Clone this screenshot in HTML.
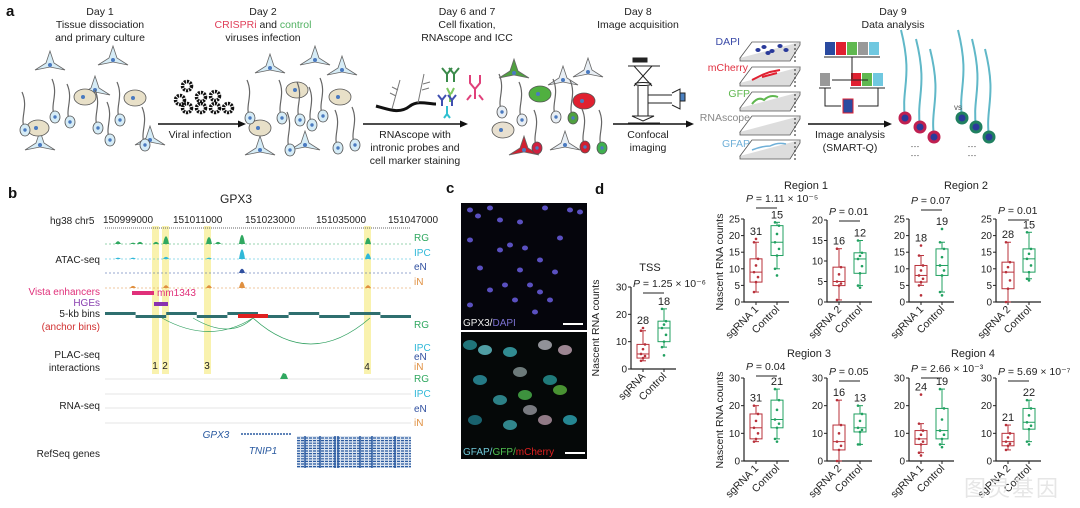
<!DOCTYPE html>
<html><head><meta charset="utf-8">
<style>
html,body{margin:0;padding:0;background:#fff;}
svg{display:block;font-family:"Liberation Sans","Noto Sans CJK SC",sans-serif;}
</style></head>
<body>
<svg id="fig" width="1080" height="508" viewBox="0 0 1080 508" xmlns="http://www.w3.org/2000/svg" fill="#222">
<!-- PANEL A -->
<g font-size="10.5" text-anchor="middle">
  <text x="6" y="16" font-size="15" font-weight="bold" text-anchor="start" fill="#111">a</text>
  <text x="100" y="15">Day 1</text>
  <text x="100" y="28">Tissue dissociation</text>
  <text x="100" y="41">and primary culture</text>
  <text x="263" y="15">Day 2</text>
  <text x="263" y="28"><tspan fill="#e0405a">CRISPRi</tspan> and <tspan fill="#50b060">control</tspan></text>
  <text x="263" y="41">viruses infection</text>
  <text x="467" y="15">Day 6 and 7</text>
  <text x="467" y="28">Cell fixation,</text>
  <text x="467" y="41">RNAscope and ICC</text>
  <text x="638" y="15">Day 8</text>
  <text x="638" y="28">Image acquisition</text>
  <text x="893" y="15">Day 9</text>
  <text x="893" y="28">Data analysis</text>

  <g>
    <line x1="158" y1="124" x2="240" y2="124" stroke="#111" stroke-width="1.5"/>
    <polygon points="246,124 238,120.5 238,127.5" fill="#111"/>
  </g>
  <text x="200" y="138">Viral infection</text>
  <g>
    <line x1="363" y1="124" x2="462" y2="124" stroke="#111" stroke-width="1.5"/>
    <polygon points="468,124 460,120.5 460,127.5" fill="#111"/>
  </g>
  <text x="415" y="138">RNAscope with</text>
  <text x="415" y="151">intronic probes and</text>
  <text x="415" y="164">cell marker staining</text>
  <g>
    <line x1="613" y1="124" x2="688" y2="124" stroke="#111" stroke-width="1.5"/>
    <polygon points="694,124 686,120.5 686,127.5" fill="#111"/>
  </g>
  <text x="648" y="138">Confocal</text>
  <text x="648" y="151">imaging</text>
  <g>
    <line x1="808" y1="124" x2="886" y2="124" stroke="#111" stroke-width="1.5"/>
    <polygon points="892,124 884,120.5 884,127.5" fill="#111"/>
  </g>
  <text x="850" y="138">Image analysis</text>
  <text x="850" y="151">(SMART-Q)</text>

  <g id="cells"></g>
  <g id="viruses"></g>

  <g fill="none" stroke="#111">
    <path d="M376,106 C390,110 400,114 410,106 C418,100 428,104 436,104" stroke-width="3"/>
    <path d="M392,109 L400,80 M396,96 l-6,-3 M398,90 l-6,-3 M418,103 L424,74 M422,90 l7,-2 M423,84 l7,-2" stroke-width="1" stroke="#777"/>
  </g>
  <g stroke-width="2" fill="none">
    <path d="M447,82 v-8 l-5,-6 M447,74 l5,-6 M454,82 v-8 l-5,-6 M454,74 l5,-6" stroke="#3a8a4a"/>
    <path d="M447,88 l3,6 v8 M454,88 l-3,6" stroke="#7cc860"/>
    <path d="M442,106 v-6 l-4,-5 M442,100 l4,-5 M452,106 v-6 l-4,-5 M452,100 l4,-5" stroke="#4050b0"/>
    <path d="M447,106 v8 l-3,4 M447,114 l3,4" stroke="#30c0d0"/>
    <path d="M470,75 v8 l5,6 v10 M480,75 v8 l-5,6 M471,95 l-4,5 M479,95 l4,5" stroke="#e0407a"/>
  </g>
  <g stroke="#222" stroke-width="1" fill="none">
    <rect x="633" y="58" width="14" height="4" fill="#222"/>
    <line x1="628" y1="66" x2="660" y2="66"/>
    <path d="M634,66 L652,86 M652,66 L634,86"/>
    <ellipse cx="643" cy="84" rx="8" ry="1.5"/>
    <line x1="638" y1="86" x2="638" y2="116"/><line x1="648" y1="86" x2="648" y2="116"/>
    <line x1="648" y1="95" x2="672" y2="95"/><line x1="648" y1="103" x2="672" y2="103"/>
    <path d="M672,93 l8,-4 v20 l-8,-4" />
    <rect x="680" y="93" width="5" height="8" fill="#4a80c0"/>
    <path d="M632,116 h22 l-11,5 z"/>
    <line x1="628" y1="123" x2="660" y2="123"/>
  </g>
  <g id="planes"></g>
  <text x="740" y="45" fill="#3a4aa8" text-anchor="end">DAPI</text>
  <text x="748" y="71" fill="#e03040" text-anchor="end">mCherry</text>
  <text x="750" y="97" fill="#60b850" text-anchor="end">GFP</text>
  <text x="750" y="121" fill="#888" text-anchor="end">RNAscope</text>
  <text x="750" y="147" fill="#70b0d8" text-anchor="end">GFAP</text>
  <g>
    <rect x="825" y="42" width="10" height="13" fill="#2a4aa0"/><rect x="836" y="42" width="10" height="13" fill="#e02030"/>
    <rect x="847" y="42" width="10" height="13" fill="#60b850"/><rect x="858" y="42" width="10" height="13" fill="#999"/>
    <rect x="869" y="42" width="10" height="13" fill="#70c8e0"/>
    <line x1="824" y1="57" x2="880" y2="57" stroke="#222"/>
    <rect x="820" y="73" width="10" height="13" fill="#999"/>
    <rect x="851" y="73" width="10" height="13" fill="#e02030"/><rect x="862" y="73" width="10" height="13" fill="#60b850"/><rect x="873" y="73" width="10" height="13" fill="#70c8e0"/>
    <line x1="819" y1="88" x2="831" y2="88" stroke="#222"/><line x1="850" y1="88" x2="885" y2="88" stroke="#222"/>
    <path d="M852,57 v22 M832,80 h36 M825,88 v18 h16 M878,88 v18 h-20" stroke="#222" fill="none"/>
    <rect x="843" y="99" width="10" height="14" fill="#2a4aa0" stroke="#e02030"/>
  </g>
  <g id="neurons9"></g>
  <text x="958" y="110" font-size="8" fill="#555">vs</text>
  <text x="915" y="150" font-size="9" fill="#555">⋯</text>
  <text x="915" y="159" font-size="9" fill="#555">⋯</text>
  <text x="972" y="150" font-size="9" fill="#555">⋯</text>
  <text x="972" y="159" font-size="9" fill="#555">⋯</text>
</g>

<!-- PANEL B -->
<g font-size="10">
  <text x="8" y="198" font-size="15" font-weight="bold" fill="#111">b</text>
  <text x="236" y="203" font-size="12" text-anchor="middle">GPX3</text>
  <g fill="#f8f0a0" opacity="0.85">
    <rect x="152" y="226" width="7" height="148"/><rect x="162" y="226" width="7" height="148"/>
    <rect x="204" y="226" width="7" height="148"/><rect x="364" y="226" width="7" height="148"/>
  </g>
  <text x="50" y="224">hg38 chr5</text>
  <g>
    <line x1="105" y1="228" x2="411" y2="228" stroke="#666" stroke-dasharray="1 1"/>
    <text x="103" y="223">150999000</text>
    <text x="173" y="223">151011000</text>
    <text x="245" y="223">151023000</text>
    <text x="316" y="223">151035000</text>
    <text x="388" y="223">151047000</text>
  </g>
  <g id="tracks"></g>
  <text x="100" y="263" text-anchor="end">ATAC-seq</text>
  <text x="100" y="295" text-anchor="end" fill="#e0307a">Vista enhancers</text>
  <text x="100" y="306" text-anchor="end" fill="#8a40b0">HGEs</text>
  <text x="100" y="317" text-anchor="end">5-kb bins</text>
  <text x="100" y="330" text-anchor="end" fill="#d03030">(anchor bins)</text>
  <text x="100" y="358" text-anchor="end">PLAC-seq</text>
  <text x="100" y="371" text-anchor="end">interactions</text>
  <text x="100" y="409" text-anchor="end">RNA-seq</text>
  <text x="100" y="457" text-anchor="end">RefSeq genes</text>
  <rect x="132" y="291" width="22" height="4" fill="#e0307a"/>
  <text x="157" y="296" fill="#e0307a">mm1343</text>
  <rect x="154" y="302" width="14" height="4" fill="#8a30b0"/>
  <text x="155" y="369" text-anchor="middle">1</text>
  <text x="165" y="369" text-anchor="middle">2</text>
  <text x="207" y="369" text-anchor="middle">3</text>
  <text x="367" y="370" text-anchor="middle">4</text>
  <text x="216" y="438" font-style="italic" fill="#2a5aa0" text-anchor="middle">GPX3</text>
  <line x1="241" y1="434" x2="292" y2="434" stroke="#2a5aa0" stroke-width="1.5" stroke-dasharray="2 1"/>
  <text x="263" y="454" font-style="italic" fill="#2a5aa0" text-anchor="middle">TNIP1</text>
  <g>
    <rect x="297" y="436" width="114" height="32" fill="#dbe4f0"/>
    <g id="tnip1lines"></g>
  </g>
</g>

<!-- PANEL C -->
<g>
  <text x="446" y="193" font-size="15" font-weight="bold" fill="#111">c</text>
  <rect x="461" y="203" width="126" height="127" fill="#05050c"/>
  <g id="dapiDots"></g>
  <text x="463" y="326" font-size="10" fill="#eee"><tspan fill="#eee">GPX3/</tspan><tspan fill="#7a70d0">DAPI</tspan></text>
  <line x1="563" y1="324" x2="583" y2="324" stroke="#fff" stroke-width="2"/>
  <rect x="461" y="332" width="126" height="127" fill="#050808"/>
  <g id="gfapCells"></g>
  <text x="463" y="455" font-size="10"><tspan fill="#70c8d8">GFAP/</tspan><tspan fill="#50c050">GFP/</tspan><tspan fill="#e02020">mCherry</tspan></text>
  <line x1="565" y1="453" x2="585" y2="453" stroke="#fff" stroke-width="2"/>
</g>

<!-- PANEL D -->
<g>
  <text x="595" y="194" font-size="15" font-weight="bold" fill="#111">d</text>
  <g id="boxplots" font-size="10"></g>
  <text x="1012" y="496" font-size="22" fill="#e6e6e6" text-anchor="middle" letter-spacing="2">图灵基因</text>
</g>
</svg>
<script>
// ===== Panel d data =====
const plotNames = ["TSS","R1a","R1b","R2a","R2b","R3a","R3b","R4a","R4b"];
const groupLabels = [["sgRNA","Control"],["sgRNA 1","Control"],["sgRNA 2","Control"],["sgRNA 1","Control"],["sgRNA 2","Control"],["sgRNA 1","Control"],["sgRNA 2","Control"],["sgRNA 1","Control"],["sgRNA 2","Control"]];
const yMaxValues = [30,25,20,25,25,30,30,30,30];
const yTickValues = [[0,10,20,30],[0,5,10,15,20,25],[0,5,10,15,20],[0,5,10,15,20,25],[0,5,10,15,20,25],[0,10,20,30],[0,10,20,30],[0,10,20,30],[0,10,20,30]];
// [min, q1, median, q3, max]
const sgStats = [[3,4,5.5,9,14],[3,6,9,13,18],[0.5,4,5,8.5,13],[5,6,8,11,14],[0,4,9,12,18],[7,8,12,17,20],[0,4,7,13,22],[3,6,8,11,13.5],[4,5.5,7,10,13]];
const ctrlStats = [[8,10,15,17.5,22],[10,14,18,23,24],[4,7,10.5,12,15],[3,8,11,16,18],[7,9,13,16,21],[8,12,15,22,26],[6,10.5,12,17,20],[6,8,11,19,26],[7,11.5,14,19,22]];
const sgN = [28,31,16,18,28,31,16,24,21];
const ctrlN = [18,15,12,19,15,21,13,19,22];
const pLabels = ["P = 1.25 × 10⁻⁶","P = 1.11 × 10⁻⁵","P = 0.01","P = 0.07","P = 0.01","P = 0.04","P = 0.05","P = 2.66 × 10⁻³","P = 5.69 × 10⁻⁷"];
const regionTitles = ["Region 1","Region 2","Region 3","Region 4"];
const sgOutliers = [[15],[19],[],[17,2],[],[],[],[2,24],[]];
const ctrlOutliers = [[5],[8],[3.5],[22,2],[6.5],[7],[6],[5],[6]];

// layout (not data)
const layout = [
  {ax:631,y0:369,y1:287,pOff:0,lOff:6},{ax:744,y0:302,y1:219,pOff:-17,lOff:-11},{ax:827,y0:302,y1:220,pOff:-5,lOff:1},{ax:909,y0:302,y1:219,pOff:-15,lOff:-9},{ax:996,y0:302,y1:219,pOff:-5,lOff:1},
  {ax:744,y0:461,y1:378,pOff:-8,lOff:-2},{ax:827,y0:461,y1:378,pOff:-3,lOff:3},{ax:909,y0:461,y1:378,pOff:-6,lOff:0},{ax:996,y0:461,y1:378,pOff:-3,lOff:3}];
const NS="http://www.w3.org/2000/svg";
function mk(tag,attrs,parent){const e=document.createElementNS(NS,tag);for(const k in attrs)e.setAttribute(k,attrs[k]);if(parent)parent.appendChild(e);return e;}
const bp=document.getElementById('boxplots');
const RED="#b8303a", GRN="#20a060";
plotNames.forEach((nm,i)=>{
  const L=layout[i];
  const g=mk('g',{},bp);
  
  
  const ymax=yMaxValues[i];
  const y=v=>L.y0-(v/ymax)*(L.y0-L.y1);
  const xs=[L.ax+12,L.ax+33];
  const axis=mk('path',{d:`M${L.ax},${y(ymax)} V${L.y0} H${L.ax+45}`,stroke:'#222',fill:'none','stroke-width':1.2},g);
  
  
  yTickValues[i].forEach(t=>{
    mk('line',{x1:L.ax-3,x2:L.ax,y1:y(t),y2:y(t),stroke:'#222'},g);
    const tx=mk('text',{x:L.ax-4,y:y(t)+3.5,'text-anchor':'end'},g);tx.textContent=t;
    
    
  });
  xs.forEach(x=>mk('line',{x1:x,x2:x,y1:L.y0,y2:L.y0+3,stroke:'#222'},g));
  [sgStats[i],ctrlStats[i]].forEach((s,j)=>{
    const c=j?GRN:RED, x=xs[j], w=6;
    const box=mk('g',{stroke:c,fill:'none','stroke-width':1},g);
    
    
    mk('rect',{x:x-w,y:y(s[3]),width:2*w,height:y(s[1])-y(s[3])},box);
    mk('line',{x1:x-w,x2:x+w,y1:y(s[2]),y2:y(s[2])},box);
    mk('line',{x1:x,x2:x,y1:y(s[3]),y2:y(s[4])},box);
    mk('line',{x1:x,x2:x,y1:y(s[1]),y2:y(s[0])},box);
    mk('line',{x1:x-3,x2:x+3,y1:y(s[4]),y2:y(s[4])},box);
    mk('line',{x1:x-3,x2:x+3,y1:y(s[0]),y2:y(s[0])},box);
    const vals=[s[0],s[1],(s[1]+s[2])/2,s[2],(s[2]+s[3])/2,s[3],s[4]];
    vals.forEach((v,k)=>mk('circle',{cx:x+((k%3)-1)*2,cy:y(v),r:1.3,fill:c,stroke:'none'},box));
    (j?ctrlOutliers:sgOutliers)[i].forEach(v=>mk('circle',{cx:x,cy:y(v),r:1.3,fill:c,stroke:'none'},box));
    const top=Math.max(s[4],...(j?ctrlOutliers:sgOutliers)[i]);
    const nt=mk('text',{x:x,y:y(top)-4,'text-anchor':'middle','font-size':11},g);nt.textContent=j?ctrlN[i]:sgN[i];
    
    
    const lt=mk('text',{transform:`translate(${x+3},${L.y0+8}) rotate(-45)`,'text-anchor':'end','font-size':10.5},g);
    lt.textContent=groupLabels[i][j];
    
    
  });
  const top=y(ymax);
  mk('line',{x1:xs[0],x2:xs[1],y1:top+L.lOff,y2:top+L.lOff,stroke:'#222'},g);
  const pt=mk('text',{x:L.ax+2,y:top+L.pOff,'font-size':10.5},g);
  pt.innerHTML='<tspan font-style="italic">P</tspan>'+pLabels[i].slice(1);
  
  
});
[[599,328],[723,262],[723,420]].forEach(([x,yy])=>{
  const t=mk('text',{transform:`translate(${x},${yy}) rotate(-90)`,'text-anchor':'middle','font-size':10.5},bp);
  t.textContent='Nascent RNA counts';
  
  
});
const tss=mk('text',{x:650,y:271,'text-anchor':'middle','font-size':11},bp);tss.textContent='TSS';


[[806,189],[966,189],[809,357],[973,357]].forEach(([x,yy],k)=>{
  const t=mk('text',{x:x,y:yy,'text-anchor':'middle','font-size':11},bp);t.textContent=regionTitles[k];
  
  
});

// ===== Panel b tracks (illustrative) =====
const tr=document.getElementById('tracks');
const trackColors=["#30a860","#30b8d8","#3050a0","#e09040"];
const trackNames=["RG","IPC","eN","iN"];
const atacBase=[244,259,273,288];
const atacPeaks=[[[118,4],[133,2],[140,3],[156,3],[166,11],[209,10],[218,3],[242,13],[368,9]],[[118,2],[133,2],[166,3],[209,2],[242,14],[368,8]],[[242,6]],[[133,3],[166,4],[209,4],[242,9],[368,4]]];
atacBase.forEach((b,i)=>{
  mk('line',{x1:105,x2:411,y1:b,y2:b,stroke:trackColors[i],'stroke-width':0.6,'stroke-dasharray':'2 2'},tr);
  atacPeaks[i].forEach(([x,h])=>mk('path',{d:`M${x-3},${b} Q${x},${b-h*1.4} ${x+3},${b} Z`,fill:trackColors[i]},tr));
  const t=mk('text',{x:414,y:b-3,fill:trackColors[i],'font-size':10},tr);t.textContent=trackNames[i];
  
  
});
for(let k=0;k<10;k++){
  const x=105+k*30.6;
  mk('rect',{x:x,y:k%2?315:312,width:30.6,height:3,fill:'#2f6f6f'},tr);
}
mk('rect',{x:238,y:314,width:30,height:4,fill:'#e02020'},tr);
mk('path',{d:'M162,318 Q210,345 253,318 M193,318 Q230,340 253,318 M253,318 Q310,370 370,318',fill:'none',stroke:'#30a060','stroke-width':0.7},tr);
[[414,328,"RG"],[414,351,"IPC"],[414,360,"eN"],[414,370,"iN"],[414,382,"RG"],[414,397,"IPC"],[414,412,"eN"],[414,426,"iN"]].forEach(([x,yy,n],k)=>{
  const t=mk('text',{x:x,y:yy,fill:trackColors[trackNames.indexOf(n)],'font-size':10},tr);t.textContent=n;
  
  
});
[379,394,408,423].forEach((b,i)=>mk('line',{x1:105,x2:411,y1:b,y2:b,stroke:'#ccc','stroke-width':0.5},tr));
mk('path',{d:'M280,379 l3,-6 l3,1 l2,5 z',fill:'#30a860'},tr);
const tl=document.getElementById('tnip1lines');
for(let k=0;k<12;k++){mk('line',{x1:297,x2:411,y1:438+k*2.6,y2:438+k*2.6,stroke:'#2a5aa0','stroke-width':1.2,'stroke-dasharray':'3 1'},tl);}
[305,320,335,338,360,372,395].forEach(x=>mk('line',{x1:x,x2:x,y1:436,y2:468,stroke:'#2a5aa0','stroke-width':1.5},tl));

// ===== Panel c decoration =====
const dd=document.getElementById('dapiDots');
[[470,210],[478,216],[490,208],[545,208],[570,210],[580,212],[500,220],[520,222],[470,240],[500,250],[510,245],[525,248],[560,238],[540,260],[480,268],[520,270],[555,272],[490,290],[505,285],[530,285],[540,292],[515,300],[550,300],[470,305],[535,312]].forEach(([x,y])=>mk('ellipse',{cx:x,cy:y,rx:3,ry:2.5,fill:'#5a50c0'},dd));
const gc=document.getElementById('gfapCells');
[[470,345,'#2a9aa0'],[485,350,'#6ad0d8'],[510,352,'#40b8c0'],[545,345,'#c0c0c8'],[565,350,'#d0b0c0'],[480,380,'#30a0b0'],[520,372,'#90a0a0'],[550,380,'#2aa0a0'],[560,390,'#60c040'],[500,400,'#3aa8b0'],[530,410,'#a0a0a8'],[545,420,'#c0a0b0'],[510,425,'#40b0b8'],[475,420,'#208090'],[570,420,'#30b0c0'],[525,395,'#50c050']].forEach(([x,y,c])=>mk('ellipse',{cx:x,cy:y,rx:7,ry:5,fill:c,opacity:0.75},gc));

// ===== Panel a decoration =====
const cells=document.getElementById('cells');
function tri(x,y,c){mk('path',{d:`M${x},${y-14} L${x+4},${y-2} L${x+15},${y+5} L${x},${y+2} L${x-15},${y+5} L${x-4},${y-2} Z`,fill:c,stroke:'#666','stroke-width':0.8},cells);mk('circle',{cx:x,cy:y,r:2,fill:'#4a7ac0'},cells);}
function oval(x,y,c){mk('ellipse',{cx:x,cy:y,rx:11,ry:8,fill:c,stroke:'#555','stroke-width':0.8},cells);mk('circle',{cx:x-2,cy:y,r:2,fill:'#4a7ac0'},cells);}
function neu(x,y,c){mk('path',{d:`M${x},${y} C${x-6},${y-12} ${x+4},${y-22} ${x-3},${y-38}`,fill:'none',stroke:'#666','stroke-width':1.2},cells);mk('ellipse',{cx:x,cy:y,rx:5,ry:6,fill:c,stroke:'#555','stroke-width':0.8},cells);mk('circle',{cx:x,cy:y,r:1.7,fill:'#4a7ac0'},cells);}
const LB="#d6ecf6", TAN="#e8e0c8";
[[50,65],[95,90],[150,140],[113,60],[40,145]].forEach(([x,y])=>tri(x,y,LB));
[[85,97],[38,128],[135,98]].forEach(([x,y])=>oval(x,y,TAN));
[[25,130],[55,117],[70,122],[98,128],[110,140],[120,120],[145,145]].forEach(([x,y])=>neu(x,y,LB));
[[270,68],[315,60],[342,70],[260,150],[305,145]].forEach(([x,y])=>tri(x,y,LB));
[[297,90],[260,128],[340,97]].forEach(([x,y])=>oval(x,y,TAN));
[[250,118],[282,118],[300,120],[323,116],[290,150],[338,148],[355,145],[312,125]].forEach(([x,y])=>neu(x,y,LB));
[[514,73,'#50a040'],[563,80,'#e8eef4'],[588,72,'#e8eef4'],[524,150,'#d02030'],[565,145,'#e8eef4']].forEach(([x,y,c])=>tri(x,y,c));
[[540,94,'#50b040'],[584,101,'#e02030'],[503,130,'#e8e0d0']].forEach(([x,y,c])=>oval(x,y,c));
[[502,112,'#e8eef4'],[522,120,'#e8eef4'],[537,148,'#d02040'],[556,117,'#e8eef4'],[573,118,'#50a040'],[585,147,'#d02030'],[602,148,'#40b050']].forEach(([x,y,c])=>neu(x,y,c));
const vz=document.getElementById('viruses');
[[187,86],[201,97],[187,108],[215,108],[201,108],[180,100],[228,108],[215,96]].forEach(([x,y])=>{mk('circle',{cx:x,cy:y,r:4.5,fill:'#fff',stroke:'#111','stroke-width':3.5,'stroke-dasharray':'2 1'},vz);});
const pl=document.getElementById('planes');
[54,79,104,128,152].forEach((y,k)=>{
  mk('path',{d:`M740,${y+4} L752,${y-12} L800,${y-12} L790,${y+4} Z`,fill:'#fff',stroke:'#555','stroke-width':0.8},pl);
  mk('path',{d:`M740,${y+4} v3 h50 l10,-16 v-3`,fill:'#ddd',stroke:'#555','stroke-width':0.8},pl);
  mk('line',{x1:795,x2:795,y1:y-10,y2:y+8,stroke:'#222','stroke-dasharray':'2 2'},pl);
});
[[758,50],[764,47],[772,51],[780,46],[786,50],[768,53]].forEach(([x,y])=>mk('ellipse',{cx:x,cy:y,rx:2.6,ry:2,fill:'#2a3a9a'},pl));
mk('path',{d:'M752,80 l10,-5 l8,-3 l10,-2 M762,77 l15,-4',stroke:'#e02030','stroke-width':2,fill:'none'},pl);
mk('path',{d:'M752,104 q6,-8 12,-4 q6,-6 14,-3',stroke:'#60b850','stroke-width':2,fill:'none'},pl);
mk('path',{d:'M752,150 q10,-4 18,-4 q8,-4 16,-2',stroke:'#70b0d8','stroke-width':1.5,fill:'none'},pl);
const n9=document.getElementById('neurons9');
[[905,118,'#c02050'],[920,127,'#c02050'],[934,137,'#c02050'],[962,118,'#208060'],[976,127,'#208060'],[989,137,'#208060']].forEach(([x,y,c])=>{
  mk('path',{d:`M${x},${y} C${x-4},${y-30} ${x+8},${y-40} ${x-4},${y-88}`,fill:'none',stroke:'#60b8c8','stroke-width':2},n9);
  mk('circle',{cx:x,cy:y,r:6.5,fill:c},n9);
  mk('circle',{cx:x,cy:y,r:3.5,fill:'#2a3a9a'},n9);
});
</script>
</body></html>
